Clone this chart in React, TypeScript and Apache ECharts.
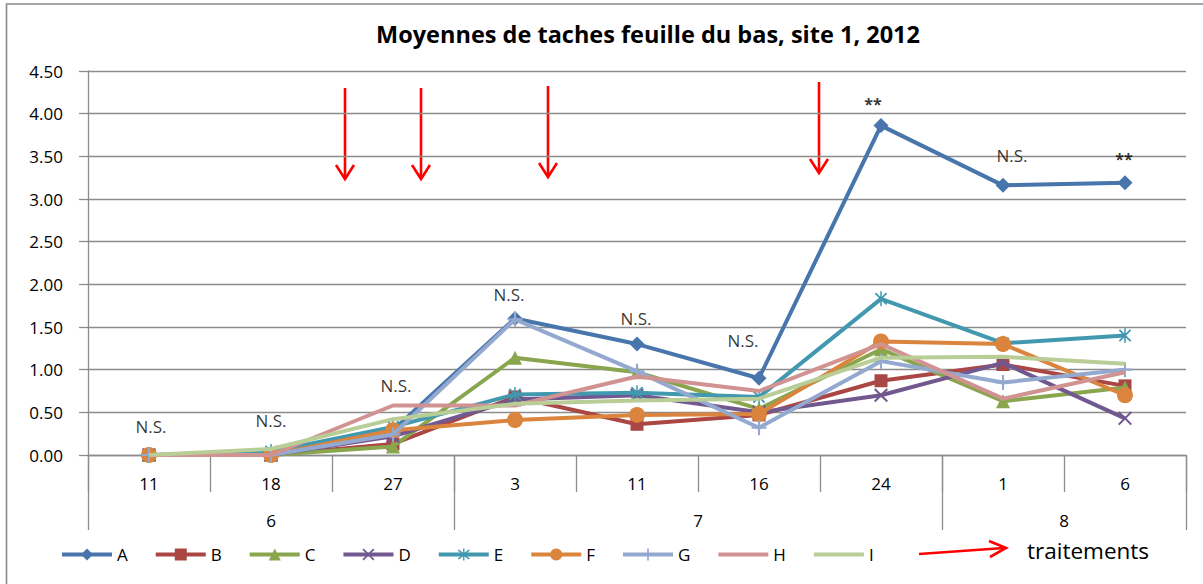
import React, { useEffect, useRef } from 'react';
import * as echarts from 'echarts';

const title = 'Moyennes de taches feuille du bas, site 1, 2012';
const days = ['11', '18', '27', '3', '11', '16', '24', '1', '6'];
const months = ['6', '7', '8'];
const monthBounds = [0, 3, 7, 9];
const monthCenters = [1.5, 5, 8];
const yTicks = [0, 0.5, 1, 1.5, 2, 2.5, 3, 3.5, 4, 4.5];

const seriesNames = ['A', 'B', 'C', 'D', 'E', 'F', 'G', 'H', 'I'];
const A = [0, 0, 0.29, 1.6, 1.3, 0.9, 3.86, 3.16, 3.19];
const B = [0, 0, 0.13, 0.68, 0.36, 0.47, 0.87, 1.06, 0.81];
const C = [0, 0, 0.1, 1.14, 0.97, 0.54, 1.24, 0.63, 0.79];
const D = [0, 0, 0.22, 0.65, 0.7, 0.5, 0.7, 1.08, 0.43];
const E = [0, 0.04, 0.33, 0.71, 0.73, 0.68, 1.83, 1.31, 1.4];
const F = [0, 0, 0.29, 0.41, 0.47, 0.48, 1.33, 1.3, 0.7];
const G = [0, 0, 0.24, 1.59, 0.98, 0.32, 1.1, 0.85, 1.0];
const H = [0, 0, 0.58, 0.58, 0.92, 0.75, 1.3, 0.66, 0.97];
const I = [0, 0.07, 0.42, 0.6, 0.64, 0.66, 1.14, 1.15, 1.07];
const seriesValues = [A, B, C, D, E, F, G, H, I];

const sigLabels = ['N.S.', 'N.S.', 'N.S.', 'N.S.', 'N.S.', 'N.S.', '**', 'N.S.', '**'];
const sigHeights = [0.33, 0.4, 0.82, 1.88, 1.6, 1.34, 4.11, 3.51, 3.47];
const sigShiftX = [2, 0, 3, -6, -1, -16, -8, 9, -1];

const legendNote = 'traitements';

const colors = ['#4775AC', '#AA4643', '#89A54E', '#71588F', '#4198AF', '#DB843D', '#93A9CF', '#D19392', '#B9CD96'];
const crossPath = 'path://M0,1 L1,0 L5,4 L9,0 L10,1 L6,5 L10,9 L9,10 L5,6 L1,10 L0,9 L4,5 Z';
const starPath = 'path://M0,1 L1,0 L5,4 L9,0 L10,1 L6,5 L10,9 L9,10 L5,6 L1,10 L0,9 L4,5 Z M4.4,-1 L5.6,-1 L5.6,11 L4.4,11 Z';
const plusPath = 'path://M4.3,0 L5.7,0 L5.7,10 L4.3,10 Z M0,4.3 L10,4.3 L10,5.7 L0,5.7 Z';
const symbols = ['diamond', 'rect', 'triangle', crossPath, starPath, 'circle', plusPath, 'none', 'none'];
const symbolSizes = [15, 13, 14, 14, 15, 16, 15, 0, 0];

const FONT = 'Open Sans';
const GRID = '#8c8c8c';

function arrowDown(x: number, top: number, tip: number) {
  return [
    { type: 'line', shape: { x1: x, y1: top, x2: x, y2: tip - 1 }, style: { stroke: '#ff0000', lineWidth: 2.6 } },
    {
      type: 'polyline',
      shape: { points: [[x - 9, tip - 14], [x, tip], [x + 9, tip - 14]] },
      style: { stroke: '#ff0000', lineWidth: 2.6, fill: 'none' },
    },
  ];
}

export default function App() {
  const ref = useRef<HTMLDivElement>(null);
  useEffect(() => {
    document.body.style.margin = '0';
    const chart = echarts.init(ref.current!, null, { renderer: 'svg' });
    const lineSeries = seriesNames.map((name, i) => ({
      name,
      type: 'line',
      data: seriesValues[i],
      symbol: symbols[i],
      symbolSize: symbolSizes[i],
      symbolKeepAspect: true,
      showSymbol: symbols[i] !== 'none',
      color: colors[i],
      lineStyle: { width: 4, color: colors[i] },
      itemStyle: { color: colors[i] },
      z: 2 + i,
    }));
    const sigSeries = {
      name: 'sig',
      type: 'scatter',
      z: 20,
      symbolSize: 1,
      itemStyle: { color: 'rgba(0,0,0,0)' },
      data: sigLabels.map((t, i) => ({
        value: [i, sigHeights[i]],
        label: {
          show: true,
          position: 'inside',
          formatter: t,
          offset: [sigShiftX[i], 0],
          color: '#000',
          fontFamily: FONT,
          fontSize: t === '**' ? 16 : 17,
          fontWeight: t === '**' ? 'bold' : 'normal',
        },
      })),
    };
    const option: any = {
      animation: false,
      backgroundColor: '#fff',
      title: {
        text: title,
        left: 643,
        textAlign: 'center',
        top: 17,
        textStyle: { fontFamily: FONT, fontWeight: 'bold', fontSize: 23.5, color: '#000' },
      },
      grid: { left: 88, right: 17, top: 71, bottom: 129, containLabel: false },
      legend: {
        data: seriesNames.map((n, i) =>
          symbols[i] === 'none' ? { name: n, itemStyle: { opacity: 0 } } : { name: n }
        ),
        left: 55,
        top: 541,
        itemWidth: 50,
        itemHeight: 15,
        itemGap: 26,
        lineStyle: { width: 4 },
        textStyle: { fontFamily: FONT, fontSize: 17, color: '#000' },
      },
      xAxis: [
        {
          type: 'category',
          data: days,
          boundaryGap: true,
          axisLine: { show: true, lineStyle: { color: GRID, width: 1.3 } },
          axisTick: { show: true, interval: 0, length: 37, lineStyle: { color: GRID, width: 1.3 } },
          axisLabel: { interval: 0, margin: 20, fontFamily: FONT, fontSize: 17, color: '#000' },
          splitLine: { show: false },
        },
        {
          type: 'value',
          min: 0,
          max: 9,
          position: 'bottom',
          axisLine: { show: false },
          splitLine: { show: false },
          axisTick: { show: true, customValues: monthBounds, length: 75, lineStyle: { color: GRID, width: 1.3 } },
          axisLabel: {
            show: true,
            customValues: monthCenters,
            margin: 57,
            formatter: (v: number) => months[monthCenters.indexOf(v)] ?? '',
            fontFamily: FONT,
            fontSize: 17,
            color: '#000',
          },
        },
      ],
      yAxis: {
        type: 'value',
        min: 0,
        max: 4.5,
        interval: 0.5,
        axisLine: { show: true, lineStyle: { color: GRID, width: 1.3 } },
        axisTick: { show: true, length: 9, lineStyle: { color: GRID, width: 1.3 } },
        axisLabel: {
          margin: 25,
          formatter: (v: number) => (yTicks.includes(v) ? v.toFixed(2) : ''),
          fontFamily: FONT,
          fontSize: 17,
          color: '#000',
        },
        splitLine: { show: true, lineStyle: { color: GRID, width: 1.3 } },
      },
      graphic: [
        {
          type: 'rect',
          shape: { x: 6.5, y: 4, width: 1260, height: 640 },
          style: { fill: 'none', stroke: '#8a8a8a', lineWidth: 1.6 },
          silent: true,
          z: -1,
        },
        ...arrowDown(345, 88, 179),
        ...arrowDown(421, 88, 179),
        ...arrowDown(548, 86, 177),
        ...arrowDown(819, 82, 173),
        { type: 'line', shape: { x1: 919, y1: 554, x2: 1004, y2: 548 }, style: { stroke: '#ff0000', lineWidth: 2.6 } },
        {
          type: 'polyline',
          shape: { points: [[989, 541], [1006, 548], [990, 557]] },
          style: { stroke: '#ff0000', lineWidth: 2.6, fill: 'none' },
        },
        {
          type: 'text',
          x: 1027,
          y: 550,
          style: { text: legendNote, fontFamily: FONT, fontSize: 22.5, fill: '#000', textVerticalAlign: 'middle' },
        },
      ],
      series: [...lineSeries, sigSeries],
    };
    chart.setOption(option);
    return () => chart.dispose();
  }, []);
  return <div ref={ref} style={{ width: 1203, height: 584 }} />;
}
